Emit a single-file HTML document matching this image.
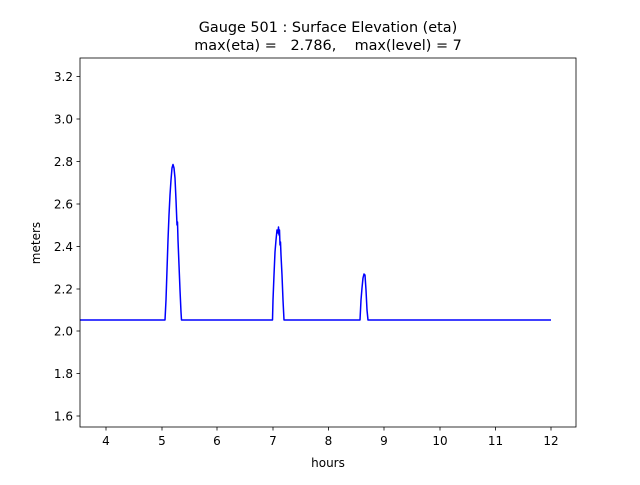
<!DOCTYPE html>
<html><head><meta charset="utf-8"><style>
body{margin:0;background:#fff}
svg text{font-family:"DejaVu Sans","Liberation Sans",sans-serif;fill:#000}
</style></head><body>
<svg width="640" height="480" viewBox="0 0 640 480" xmlns="http://www.w3.org/2000/svg">
<rect width="640" height="480" fill="#fff"/>
<text x="328" y="32" font-size="14.4" text-anchor="middle">Gauge 501 : Surface Elevation (eta)</text>
<text x="328" y="50" font-size="14.4" text-anchor="middle" xml:space="preserve">max(eta) =   2.786,    max(level) = 7</text>
<path d="M80,320 L165,320 L166,300 L167,270 L168,240 L169,215 L170,195 L171,180 L172,168 L173,164.5 L174,168 L175,178 L176,200 L177,225 L177.5,222 L178,240 L179,265 L180,290 L181,312 L181.5,320 L272.5,320 L273,300 L274,275 L275,252 L276,240 L277,230 L278,233 L278.5,227 L279,235 L279.5,230 L280,245 L280.5,242 L281,255 L282,275 L283,300 L284,320 L360,320 L361,300 L362,288 L363,278 L364,274 L365,275 L366,290 L367,310 L368,320 L551,320" fill="none" stroke="#0000ff" stroke-width="1.5" stroke-linejoin="round"/>
<rect x="80" y="58" width="496" height="369" fill="none" stroke="#000" stroke-width="0.8"/>
<g stroke="#000" stroke-width="0.8">
<line x1="106" y1="427" x2="106" y2="430.5"/><line x1="162" y1="427" x2="162" y2="430.5"/><line x1="217" y1="427" x2="217" y2="430.5"/><line x1="273" y1="427" x2="273" y2="430.5"/><line x1="328.5" y1="427" x2="328.5" y2="430.5"/><line x1="384" y1="427" x2="384" y2="430.5"/><line x1="440" y1="427" x2="440" y2="430.5"/><line x1="495.5" y1="427" x2="495.5" y2="430.5"/><line x1="551" y1="427" x2="551" y2="430.5"/>
<line x1="76.5" y1="416" x2="80" y2="416"/><line x1="76.5" y1="373.5" x2="80" y2="373.5"/><line x1="76.5" y1="331" x2="80" y2="331"/><line x1="76.5" y1="289" x2="80" y2="289"/><line x1="76.5" y1="246.5" x2="80" y2="246.5"/><line x1="76.5" y1="204" x2="80" y2="204"/><line x1="76.5" y1="161.5" x2="80" y2="161.5"/><line x1="76.5" y1="119" x2="80" y2="119"/><line x1="76.5" y1="76.5" x2="80" y2="76.5"/>
</g>
<g font-size="12" text-anchor="middle">
<text x="106" y="445">4</text><text x="162" y="445">5</text><text x="217" y="445">6</text><text x="273" y="445">7</text><text x="328.5" y="445">8</text><text x="384" y="445">9</text><text x="440" y="445">10</text><text x="495.5" y="445">11</text><text x="551" y="445">12</text>
</g>
<g font-size="12" text-anchor="end">
<text x="73" y="420.5">1.6</text><text x="73" y="378">1.8</text><text x="73" y="335.5">2.0</text><text x="73" y="293.5">2.2</text><text x="73" y="251">2.4</text><text x="73" y="208.5">2.6</text><text x="73" y="166">2.8</text><text x="73" y="123.5">3.0</text><text x="73" y="81">3.2</text>
</g>
<text x="328" y="467" font-size="12" text-anchor="middle">hours</text>
<text x="40" y="243" font-size="12" text-anchor="middle" transform="rotate(-90 40 243)">meters</text>
</svg>
</body></html>
